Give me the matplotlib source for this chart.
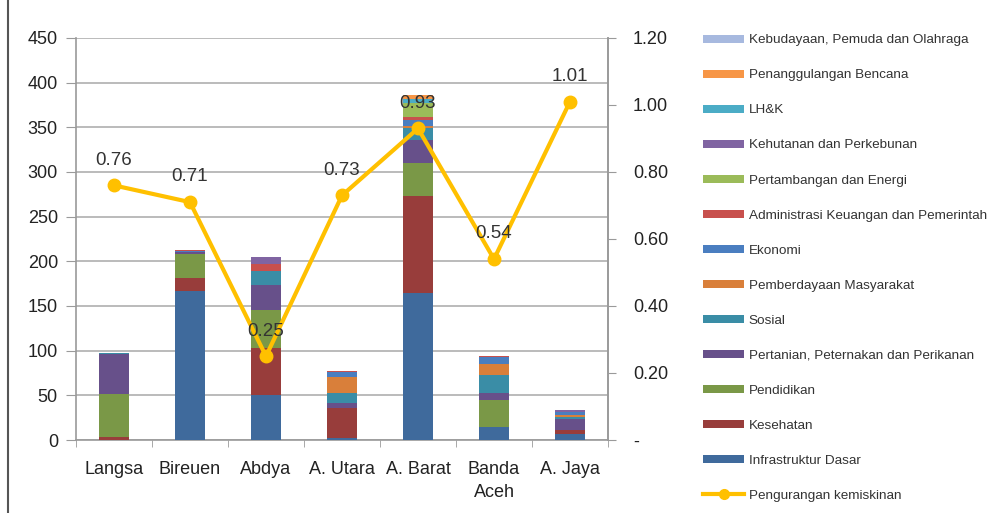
import matplotlib.pyplot as plt
import matplotlib.ticker as mticker
from matplotlib.patches import Patch
from matplotlib.lines import Line2D
import numpy as np

plt.rcParams["font.family"] = ["Liberation Sans", "DejaVu Sans"]

regions = ["Langsa", "Bireuen", "Abdya", "A. Utara", "A. Barat", "Banda\nAceh", "A. Jaya"]

# budget per sector (stack order, bottom to top)
infrastruktur = [0, 167, 50, 2, 165, 14, 7]
kesehatan = [3, 14, 53, 34, 108, 0, 4]
pendidikan = [48, 27, 43, 0, 37, 31, 0]
pertanian = [45, 2, 27, 5, 26, 8, 12]
sosial = [1, 0, 16, 12, 13, 20, 3]
pemberdayaan = [0, 0.5, 0, 17, 2, 12, 2.5]
ekonomi = [0, 1.5, 0, 6, 7, 7.5, 2.5]
administrasi = [0, 0.5, 8.5, 1.5, 3, 2, 0]
pertambangan = [0, 0, 0, 0, 16, 0, 0]
kehutanan = [0, 0, 7.5, 0, 0, 0, 3]
lhk = [0, 0, 0, 0, 4.5, 0, 0]
penanggulangan = [0, 0.5, 0, 0, 5, 0, 0]
kebudayaan = [0, 0, 0, 0, 0, 0, 0]

# poverty reduction (right axis)
kemiskinan = [0.76, 0.71, 0.25, 0.73, 0.93, 0.54, 1.01]

series = [
    ("Infrastruktur Dasar", infrastruktur, "#3F6A9C"),
    ("Kesehatan", kesehatan, "#983D3B"),
    ("Pendidikan", pendidikan, "#7A9847"),
    ("Pertanian, Peternakan dan Perikanan", pertanian, "#67508A"),
    ("Sosial", sosial, "#3A8DA6"),
    ("Pemberdayaan Masyarakat", pemberdayaan, "#D97F3A"),
    ("Ekonomi", ekonomi, "#4A7EC0"),
    ("Administrasi Keuangan dan Pemerintah", administrasi, "#C8504D"),
    ("Pertambangan dan Energi", pertambangan, "#9BBB59"),
    ("Kehutanan dan Perkebunan", kehutanan, "#8064A2"),
    ("LH&K", lhk, "#4BACC6"),
    ("Penanggulangan Bencana", penanggulangan, "#F79646"),
    ("Kebudayaan, Pemuda dan Olahraga", kebudayaan, "#A7B9DF"),
]

grey = "#9A9A9A"
text_c = "#333333"

fig = plt.figure(figsize=(10.01, 5.13), dpi=100)
ax = fig.add_axes([0.0759, 0.1423, 0.5315, 0.7837])
x = np.arange(len(regions))

bottom = np.zeros(len(regions))
for name, vals, col in series:
    ax.bar(x, vals, 0.4, bottom=bottom, color=col, linewidth=0, zorder=3)
    bottom += np.array(vals)

ax.set_xlim(-0.5, len(regions) - 0.5)
ax.set_ylim(0, 450)
ax.set_yticks(np.arange(0, 451, 50))
ax.yaxis.grid(True, color="#AFAFAF", linewidth=1.2, zorder=0)
ax.set_axisbelow(True)
ax.set_xticks(x)
ax.set_xticklabels(regions, fontsize=13, color="#222222", linespacing=1.45)
ax.set_xticks(np.arange(-0.5, len(regions)), minor=True)
ax.tick_params(axis="x", which="major", length=0, pad=15)
ax.tick_params(axis="x", which="minor", length=5, color=grey, direction="out")
ax.tick_params(axis="y", length=7, color=grey, labelsize=13, labelcolor="#222222", pad=6)
ax.spines["top"].set_visible(False)
for s in ["left", "right", "bottom"]:
    ax.spines[s].set_color(grey)
    ax.spines[s].set_linewidth(1.2)

ax2 = ax.twinx()
ax2.set_ylim(0, 1.2)
ax2.set_yticks(np.arange(0, 1.21, 0.2))
ax2.yaxis.set_major_formatter(
    mticker.FuncFormatter(lambda v, p: "-" if abs(v) < 1e-9 else f"{v:.2f}")
)
ax2.tick_params(axis="y", length=6, color=grey, labelsize=13, labelcolor="#222222", pad=12)
for s in ["top", "left", "bottom"]:
    ax2.spines[s].set_visible(False)
ax2.spines["right"].set_color(grey)
ax2.spines["right"].set_linewidth(1.2)

ax2.plot(x, kemiskinan, color="#FFC000", linewidth=3, marker="o",
         markersize=9, zorder=5)
for i, v in enumerate(kemiskinan):
    ax2.annotate(f"{v:.2f}", (i, v), xytext=(0, 12), textcoords="offset points",
                 ha="center", va="bottom", fontsize=13.5, color=text_c, zorder=6)

handles = [Patch(facecolor=col, edgecolor="none", label=name)
           for name, vals, col in series[::-1]]
handles.append(Line2D([], [], color="#FFC000", linewidth=3, marker="o",
                      markersize=7, label="Pengurangan kemiskinan"))
fig.legend(handles=handles, loc="upper left", bbox_to_anchor=(0.702, 0.933),
           frameon=False, fontsize=9.7, handlelength=3.1, handleheight=0.55,
           handletextpad=0.3, labelspacing=1.71, borderpad=0, borderaxespad=0,
           labelcolor="#333333")

fig.add_artist(Line2D([0.008, 0.008], [0, 1], color="#555555", linewidth=1.5,
                      transform=fig.transFigure))

fig.savefig("out.png", dpi=100)
